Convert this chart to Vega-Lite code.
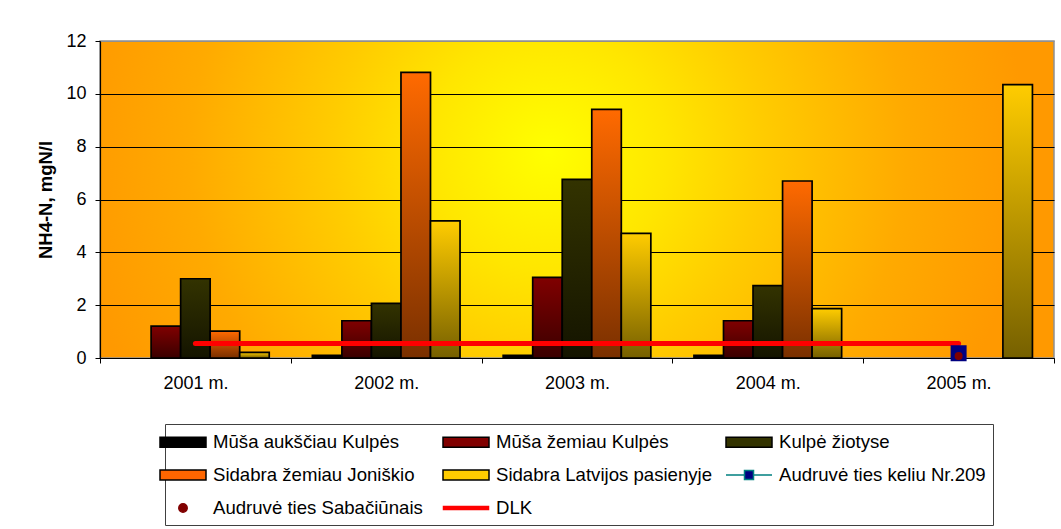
{
  "$schema": "https://vega.github.io/schema/vega-lite/v6.json",
  "width": 954,
  "height": 317,
  "autosize": {"type": "none"},
  "padding": {"left": 100, "top": 41, "right": 7, "bottom": 171},
  "background": "#ffffff",
  "datasets": {
    "bars": [
      {"year": "2001 m.", "series": "Mūša žemiau Kulpės", "value": 1.21},
      {"year": "2001 m.", "series": "Kulpė žiotyse", "value": 3.0},
      {"year": "2001 m.", "series": "Sidabra žemiau Joniškio", "value": 1.02},
      {"year": "2001 m.", "series": "Sidabra Latvijos pasienyje", "value": 0.21},
      {"year": "2002 m.", "series": "Mūša aukščiau Kulpės", "value": 0.1},
      {"year": "2002 m.", "series": "Mūša žemiau Kulpės", "value": 1.41},
      {"year": "2002 m.", "series": "Kulpė žiotyse", "value": 2.07},
      {"year": "2002 m.", "series": "Sidabra žemiau Joniškio", "value": 10.81},
      {"year": "2002 m.", "series": "Sidabra Latvijos pasienyje", "value": 5.19},
      {"year": "2003 m.", "series": "Mūša aukščiau Kulpės", "value": 0.1},
      {"year": "2003 m.", "series": "Mūša žemiau Kulpės", "value": 3.05},
      {"year": "2003 m.", "series": "Kulpė žiotyse", "value": 6.76},
      {"year": "2003 m.", "series": "Sidabra žemiau Joniškio", "value": 9.41},
      {"year": "2003 m.", "series": "Sidabra Latvijos pasienyje", "value": 4.72},
      {"year": "2004 m.", "series": "Mūša aukščiau Kulpės", "value": 0.1},
      {"year": "2004 m.", "series": "Mūša žemiau Kulpės", "value": 1.41},
      {"year": "2004 m.", "series": "Kulpė žiotyse", "value": 2.74},
      {"year": "2004 m.", "series": "Sidabra žemiau Joniškio", "value": 6.7},
      {"year": "2004 m.", "series": "Sidabra Latvijos pasienyje", "value": 1.87},
      {"year": "2005 m.", "series": "Sidabra Latvijos pasienyje", "value": 10.35}
    ],
    "dlk": [
      {"year": "2001 m.", "series": "DLK", "value": 0.55},
      {"year": "2002 m.", "series": "DLK", "value": 0.55},
      {"year": "2003 m.", "series": "DLK", "value": 0.55},
      {"year": "2004 m.", "series": "DLK", "value": 0.55},
      {"year": "2005 m.", "series": "DLK", "value": 0.55}
    ],
    "keliu": [
      {"year": "2005 m.", "series": "Audruvė ties keliu Nr.209", "value": 0.18}
    ],
    "sabaciunai": [
      {"year": "2005 m.", "series": "Audruvė ties Sabačiūnais", "value": 0.08}
    ]
  },
  "encoding": {
    "x": {
      "field": "year",
      "type": "nominal",
      "sort": null,
      "scale": {"domain": ["2001 m.", "2002 m.", "2003 m.", "2004 m.", "2005 m."], "paddingInner": 0, "paddingOuter": 0},
      "axis": {
        "title": null,
        "labelAngle": 0,
        "labelFontSize": 18,
        "labelColor": "#000000",
        "labelPadding": 11,
        "tickSize": 5,
        "tickColor": "#000000",
        "tickBand": "extent",
        "domainColor": "#000000",
        "domainWidth": 1.2,
        "grid": false
      }
    },
    "y": {
      "field": "value",
      "type": "quantitative",
      "scale": {"domain": [0, 12], "nice": false, "zero": true},
      "axis": {
        "title": "NH4-N, mgN/l",
        "titleFontSize": 18.5,
        "titleFontWeight": "bold",
        "titleColor": "#000000",
        "titlePadding": 10,
        "values": [0, 2, 4, 6, 8, 10, 12],
        "labelFontSize": 18,
        "labelColor": "#000000",
        "labelPadding": 9,
        "tickSize": 5,
        "tickColor": "#000000",
        "domainColor": "#000000",
        "domainWidth": 1.2,
        "grid": true,
        "gridColor": {"condition": {"test": "datum.value === 12", "value": "#909090"}, "value": "#000000"},
        "gridWidth": 1.2
      }
    }
  },
  "layer": [
    {
      "data": {"name": "bars"},
      "mark": {"type": "bar", "stroke": "#000000", "strokeWidth": 1.7},
      "encoding": {
        "xOffset": {
          "field": "series",
          "type": "nominal",
          "scale": {
            "domain": ["Mūša aukščiau Kulpės", "Mūša žemiau Kulpės", "Kulpė žiotyse", "Sidabra žemiau Joniškio", "Sidabra Latvijos pasienyje"],
            "paddingInner": 0,
            "paddingOuter": 0.73
          }
        },
        "fill": {
          "condition": [
            {"test": "datum.series === 'Mūša žemiau Kulpės'", "value": {"gradient": "linear", "x1": 0, "y1": 0, "x2": 0, "y2": 1, "stops": [{"offset": 0, "color": "#800000"}, {"offset": 1, "color": "#3a0000"}]}},
            {"test": "datum.series === 'Kulpė žiotyse'", "value": {"gradient": "linear", "x1": 0, "y1": 0, "x2": 0, "y2": 1, "stops": [{"offset": 0, "color": "#333300"}, {"offset": 1, "color": "#141400"}]}},
            {"test": "datum.series === 'Sidabra žemiau Joniškio'", "value": {"gradient": "linear", "x1": 0, "y1": 0, "x2": 0, "y2": 1, "stops": [{"offset": 0, "color": "#ff6a00"}, {"offset": 1, "color": "#7a3000"}]}},
            {"test": "datum.series === 'Sidabra Latvijos pasienyje'", "value": {"gradient": "linear", "x1": 0, "y1": 0, "x2": 0, "y2": 1, "stops": [{"offset": 0, "color": "#ffcc00"}, {"offset": 1, "color": "#766000"}]}}
          ],
          "value": "#000000"
        }
      }
    },
    {
      "data": {"name": "dlk"},
      "mark": {"type": "line", "color": "#ff0000", "strokeWidth": 5, "strokeCap": "round"},
      "encoding": {}
    },
    {
      "data": {"name": "keliu"},
      "mark": {"type": "square", "size": 256, "color": "#000080", "opacity": 1},
      "encoding": {}
    },
    {
      "data": {"name": "sabaciunai"},
      "mark": {"type": "circle", "size": 64, "color": "#800000", "opacity": 1},
      "encoding": {}
    },
    {
      "data": {"name": "dlk"},
      "transform": [{"filter": "false"}],
      "mark": {"type": "point", "filled": true, "opacity": 1},
      "encoding": {
        "fill": {
          "field": "series",
          "type": "nominal",
          "scale": {
            "domain": ["Mūša aukščiau Kulpės", "Mūša žemiau Kulpės", "Kulpė žiotyse", "Sidabra žemiau Joniškio", "Sidabra Latvijos pasienyje", "Audruvė ties keliu Nr.209", "Audruvė ties Sabačiūnais", "DLK"],
            "range": ["#000000", "#800000", "#333300", "#ff6600", "#ffcc00", "#000080", "#800000", "#ff0000"]
          },
          "legend": {"title": null}
        },
        "stroke": {
          "field": "series",
          "type": "nominal",
          "scale": {
            "domain": ["Mūša aukščiau Kulpės", "Mūša žemiau Kulpės", "Kulpė žiotyse", "Sidabra žemiau Joniškio", "Sidabra Latvijos pasienyje", "Audruvė ties keliu Nr.209", "Audruvė ties Sabačiūnais", "DLK"],
            "range": ["#000000", "#000000", "#000000", "#000000", "#000000", "#008080", "#800000", "#ff0000"]
          },
          "legend": {"title": null}
        },
        "shape": {
          "field": "series",
          "type": "nominal",
          "scale": {
            "domain": ["Mūša aukščiau Kulpės", "Mūša žemiau Kulpės", "Kulpė žiotyse", "Sidabra žemiau Joniškio", "Sidabra Latvijos pasienyje", "Audruvė ties keliu Nr.209", "Audruvė ties Sabačiūnais", "DLK"],
            "range": [
              "M-2.3,-0.5H2.3V0.5H-2.3Z",
              "M-2.3,-0.5H2.3V0.5H-2.3Z",
              "M-2.3,-0.5H2.3V0.5H-2.3Z",
              "M-2.3,-0.5H2.3V0.5H-2.3Z",
              "M-2.3,-0.5H2.3V0.5H-2.3Z",
              "M-2.3,0H-0.45M0.45,0H2.3M-0.45,-0.45H0.45V0.45H-0.45Z",
              "M-0.42,0A0.42,0.42 0 1,0 0.42,0A0.42,0.42 0 1,0 -0.42,0Z",
              "M-2.25,-0.16H2.25V0.16H-2.25Z"
            ]
          },
          "legend": {"title": null}
        }
      }
    }
  ],
  "config": {
    "font": "Liberation Sans",
    "legend": {
      "orient": "none",
      "legendX": 65,
      "legendY": 383,
      "direction": "horizontal",
      "columns": 3,
      "gridAlign": "all",
      "columnPadding": 10,
      "rowPadding": 12,
      "padding": 7,
      "strokeColor": "#404040",
      "fillColor": "#ffffff",
      "labelFontSize": 18.6,
      "labelColor": "#000000",
      "labelLimit": 400,
      "labelOffset": 19,
      "symbolSize": 400,
      "symbolStrokeWidth": 1.5,
      "symbolOpacity": 1
    },
    "view": {
      "stroke": "#909090",
      "strokeWidth": 1.5,
      "fill": {
        "gradient": "radial",
        "x1": 0.47, "y1": 0.45, "r1": 0,
        "x2": 0.47, "y2": 0.45, "r2": 0.5,
        "stops": [
          {"offset": 0, "color": "#ffff00"},
          {"offset": 0.25, "color": "#ffe600"},
          {"offset": 0.45, "color": "#ffcc00"},
          {"offset": 0.75, "color": "#ffaa00"},
          {"offset": 1, "color": "#ff9900"}
        ]
      }
    }
  }
}
